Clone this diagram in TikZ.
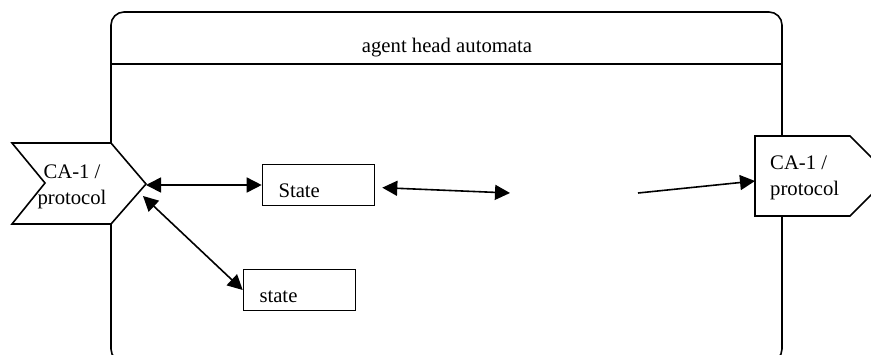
\documentclass[tikz,border=0pt]{standalone}
\usepackage{fontspec}
\setmainfont{Liberation Serif}
\usetikzlibrary{arrows.meta}
\newcommand{\widthstate}{112pt}
\newcommand{\heightstate}{41pt}
\newcommand{\textsize}{\fontsize{20.7}{26}\selectfont}
\tikzset{
    common/.style={line width=1.6pt},
    statebox/.style={common, draw, rectangle, minimum width=\widthstate, minimum height=\heightstate, inner xsep=16pt, inner ysep=0pt, text width=80pt, align=left, text height=24pt, text depth=0pt},
    sigshape/.style={common, draw, fill=white, line join=miter},
    sigtext/.style={align=center, inner sep=0pt},
    link/.style={common, {Triangle[length=15pt, width=15pt]}-{Triangle[length=15pt, width=15pt]}},
    sendlink/.style={common, -{Triangle[length=15pt, width=15pt]}}
}
\begin{document}
\begin{tikzpicture}[x=1pt, y=-1pt, every node/.style={font=\textsize}]
    \useasboundingbox (0,0) rectangle (871,354);
    \clip (0,0) rectangle (871,354);

    \draw[common, rounded corners=13pt] (111,12) rectangle (782,362);
    \draw[common] (111,64) -- (782,64);
    \node[anchor=base] (title) at (447,52) {agent head automata};

    \draw[sigshape] (12,143) -- (111,143) -- (146,184) -- (111,224) -- (12,224) -- (45,183) -- cycle;
    \node[sigtext] (recv) at (72,187) {CA-1 /\\protocol};
    \coordinate (recv-tip) at (146,185);
    \coordinate (recv-edge) at (143,196);

    \draw[sigshape] (755,136) -- (850,136) -- (890,176) -- (850,216) -- (755,216) -- cycle;
    \node[sigtext, align=left, anchor=west] (send) at (770,178) {CA-1 /\\protocol};
    \coordinate (send-in) at (755,181);

    \node[statebox] (stateA) at (318.5,185) {State};
    \node[statebox] (stateB) at (299.5,290) {state};
    \coordinate (gap-in) at (510,193);
    \coordinate (gap-out) at (638,193);

    \draw[link] (recv-tip) -- (stateA);
    \draw[link] (recv-edge) -- (stateB.west);
    \draw[link, shorten <=7pt] (stateA) -- (gap-in);
    \draw[sendlink] (gap-out) -- (send-in);
\end{tikzpicture}
\end{document}
